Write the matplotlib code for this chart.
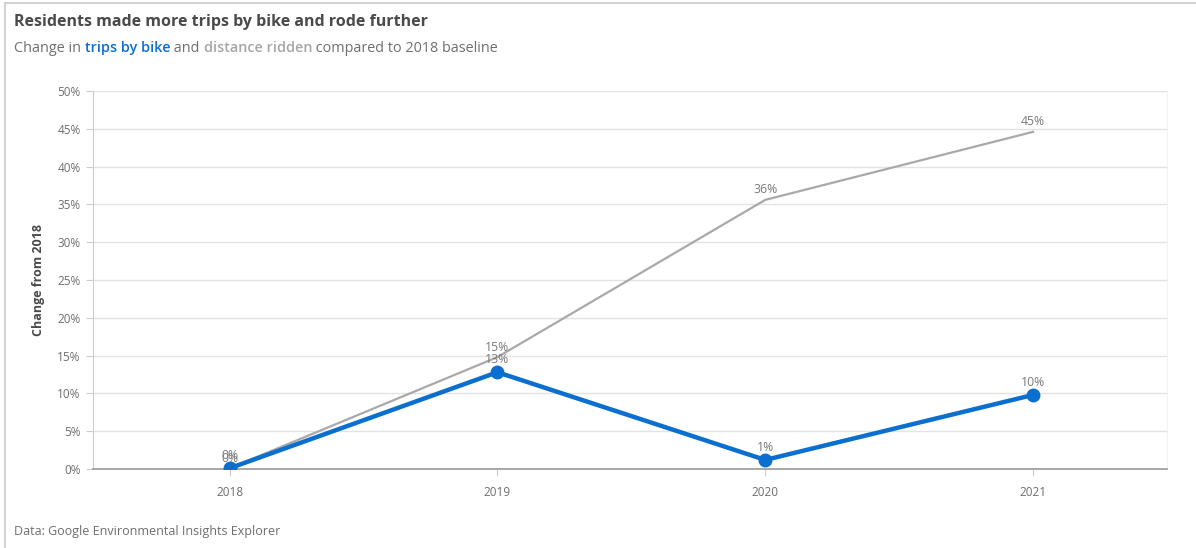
import matplotlib.pyplot as plt
from matplotlib.lines import Line2D
from matplotlib.ticker import FuncFormatter

# Values (% change from 2018)
years = [2018, 2019, 2020, 2021]
trips_by_bike = [0.1, 12.8, 1.2, 9.8]
distance_ridden = [0.1, 14.8, 35.6, 44.6]
y_ticks = [0, 5, 10, 15, 20, 25, 30, 35, 40, 45, 50]

blue = '#0b6fd0'
grey_line = '#a9a9a9'
text_dark = '#4a4a4a'
text_mid = '#6e6e6e'

plt.rcParams['font.family'] = ['Open Sans', 'DejaVu Sans']

fig = plt.figure(figsize=(11.96, 5.48), dpi=100)
ax = fig.add_axes([93 / 1196, 1 - 469 / 548, (1167 - 93) / 1196, (469 - 91) / 548])

# card border (top and left edge)
fig.add_artist(Line2D([5 / 1196, 5 / 1196], [0, 1 - 3 / 548], color='#c9c9c9', lw=1.2))
fig.add_artist(Line2D([5 / 1196, 1], [1 - 3 / 548, 1 - 3 / 548], color='#c9c9c9', lw=1.2))

ax.plot(years, distance_ridden, color=grey_line, lw=1.6, zorder=3)
ax.plot(years, trips_by_bike, color=blue, lw=3.2, marker='o', markersize=9, zorder=4,
        solid_capstyle='round', solid_joinstyle='round')

for x, v in zip(years, distance_ridden):
    ax.annotate(f'{v:.0f}%', (x, v), xytext=(0, 2.5), textcoords='offset points',
                ha='center', va='bottom', fontsize=8.8, color='#7a7a7a', zorder=5)
for x, v in zip(years, trips_by_bike):
    ax.annotate(f'{v:.0f}%', (x, v), xytext=(0, 4.5), textcoords='offset points',
                ha='center', va='bottom', fontsize=8.8, color='#7a7a7a', zorder=5)

ax.set_xlim(2017.49, 2021.5)
ax.set_ylim(0, 50)
ax.set_xticks(years)
ax.set_xticklabels([str(y) for y in years])
ax.set_yticks(y_ticks)
ax.yaxis.set_major_formatter(FuncFormatter(lambda v, p: f'{v:.0f}%'))
ax.grid(axis='y', color='#e3e3e3', lw=1.0)
ax.set_axisbelow(True)

ax.spines['top'].set_visible(False)
ax.spines['right'].set_color('#f2f2f2')
ax.spines['left'].set_color('#cccccc')
ax.spines['bottom'].set_color('#999999')
ax.spines['bottom'].set_linewidth(1.2)
ax.tick_params(axis='y', length=5, color='#cccccc', labelsize=8.5, labelcolor=text_mid, pad=4)
ax.tick_params(axis='x', length=5, color='#cccccc', labelsize=8.5, labelcolor=text_mid, pad=7)

ax.set_ylabel('Change from 2018', fontsize=9, fontweight='bold', color=text_dark, labelpad=9)

# headings
fig.text(14 / 1196, 1 - 22 / 548, 'Residents made more trips by bike and rode further',
         fontsize=11.5, fontweight='bold', color=text_dark, va='center', ha='left')

# subtitle pieces share one baseline, each placed after the previous one
sub_size = 10.4
sub_y = 1 - 52 / 548
pieces = [('Change in ', 'normal', text_mid),
          ('trips by bike', 'semibold', blue),
          (' and ', 'normal', text_mid),
          ('distance ridden', 'semibold', '#a6a6a6'),
          (' compared to 2018 baseline', 'normal', text_mid)]
prev = fig.text(14 / 1196, sub_y, pieces[0][0], fontsize=sub_size, fontweight=pieces[0][1],
                color=pieces[0][2], va='baseline', ha='left')
for s, w, c in pieces[1:]:
    prev = ax.annotate(s, xy=(1, sub_y), xycoords=(prev, 'figure fraction'),
                       va='baseline', ha='left', fontsize=sub_size, fontweight=w, color=c)

fig.text(14 / 1196, 1 - 532 / 548, 'Data: Google Environmental Insights Explorer',
         fontsize=9, color=text_mid, va='center', ha='left')

fig.savefig('out.png', dpi=100)
